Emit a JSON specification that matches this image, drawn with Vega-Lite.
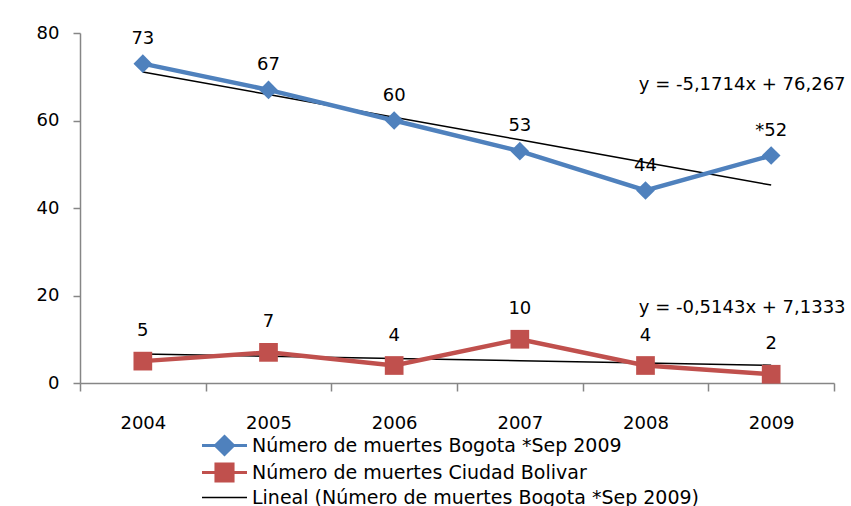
{
  "$schema": "https://vega.github.io/schema/vega-lite/v6.json",
  "width": 754,
  "height": 350,
  "autosize": "none",
  "padding": {"left": 80, "top": 33, "right": 17, "bottom": 123},
  "background": "white",
  "config": {"view": {"stroke": null}, "font": "DejaVu Sans"},
  "datasets": {
    "main": [
      {"year": "2004", "serie": "Número de muertes  Bogota  *Sep 2009", "value": 73, "label": "73"},
      {"year": "2005", "serie": "Número de muertes  Bogota  *Sep 2009", "value": 67, "label": "67"},
      {"year": "2006", "serie": "Número de muertes  Bogota  *Sep 2009", "value": 60, "label": "60"},
      {"year": "2007", "serie": "Número de muertes  Bogota  *Sep 2009", "value": 53, "label": "53"},
      {"year": "2008", "serie": "Número de muertes  Bogota  *Sep 2009", "value": 44, "label": "44"},
      {"year": "2009", "serie": "Número de muertes  Bogota  *Sep 2009", "value": 52, "label": "*52"},
      {"year": "2004", "serie": "Número de muertes  Ciudad Bolivar", "value": 5, "label": "5"},
      {"year": "2005", "serie": "Número de muertes  Ciudad Bolivar", "value": 7, "label": "7"},
      {"year": "2006", "serie": "Número de muertes  Ciudad Bolivar", "value": 4, "label": "4"},
      {"year": "2007", "serie": "Número de muertes  Ciudad Bolivar", "value": 10, "label": "10"},
      {"year": "2008", "serie": "Número de muertes  Ciudad Bolivar", "value": 4, "label": "4"},
      {"year": "2009", "serie": "Número de muertes  Ciudad Bolivar", "value": 2, "label": "2"}
    ],
    "trend": [
      {"year": "2004", "serie": "Lineal (Número de muertes  Bogota  *Sep 2009)", "value": 71.10},
      {"year": "2005", "serie": "Lineal (Número de muertes  Bogota  *Sep 2009)", "value": 65.92},
      {"year": "2006", "serie": "Lineal (Número de muertes  Bogota  *Sep 2009)", "value": 60.75},
      {"year": "2007", "serie": "Lineal (Número de muertes  Bogota  *Sep 2009)", "value": 55.58},
      {"year": "2008", "serie": "Lineal (Número de muertes  Bogota  *Sep 2009)", "value": 50.41},
      {"year": "2009", "serie": "Lineal (Número de muertes  Bogota  *Sep 2009)", "value": 45.24},
      {"year": "2004", "serie": "Lineal (Número de muertes  Ciudad Bolivar)", "value": 6.62},
      {"year": "2005", "serie": "Lineal (Número de muertes  Ciudad Bolivar)", "value": 6.10},
      {"year": "2006", "serie": "Lineal (Número de muertes  Ciudad Bolivar)", "value": 5.59},
      {"year": "2007", "serie": "Lineal (Número de muertes  Ciudad Bolivar)", "value": 5.08},
      {"year": "2008", "serie": "Lineal (Número de muertes  Ciudad Bolivar)", "value": 4.56},
      {"year": "2009", "serie": "Lineal (Número de muertes  Ciudad Bolivar)", "value": 4.05}
    ],
    "eq": [
      {"year": "2009", "value": 68.1, "eq": "y = -5,1714x + 76,267"},
      {"year": "2009", "value": 17.1, "eq": "y = -0,5143x + 7,1333"}
    ]
  },
  "encoding": {
    "x": {
      "field": "year", "type": "nominal",
      "scale": {"paddingInner": 0, "paddingOuter": 0},
      "axis": {
        "title": null, "labelAngle": 0, "tickBand": "extent",
        "labelFontSize": 18, "labelColor": "#000000", "labelPadding": 23,
        "tickSize": 8, "tickColor": "#868686", "domainColor": "#868686",
        "tickWidth": 1.5, "domainWidth": 1.5
      }
    },
    "y": {
      "field": "value", "type": "quantitative",
      "scale": {"domain": [0, 80], "nice": false},
      "axis": {
        "title": null, "values": [0, 20, 40, 60, 80], "grid": false,
        "labelFontSize": 18, "labelColor": "#000000", "labelPadding": 14,
        "tickSize": 7, "tickColor": "#868686", "domainColor": "#868686",
        "tickWidth": 1.5, "domainWidth": 1.5
      }
    }
  },
  "layer": [
    {
      "data": {"name": "trend"},
      "mark": {"type": "line", "strokeWidth": 1.5},
      "encoding": {
        "color": {
          "field": "serie", "type": "nominal",
          "scale": {
            "domain": ["Número de muertes  Bogota  *Sep 2009", "Número de muertes  Ciudad Bolivar", "Lineal (Número de muertes  Bogota  *Sep 2009)", "Lineal (Número de muertes  Ciudad Bolivar)"],
            "range": ["#4F81BD", "#C0504D", "#000000", "#000000"]
          },
          "legend": {
            "title": null, "orient": "none", "legendX": 135, "legendY": 403,
            "values": ["Número de muertes  Bogota  *Sep 2009", "Número de muertes  Ciudad Bolivar", "Lineal (Número de muertes  Bogota  *Sep 2009)"],
            "direction": "vertical", "labelFontSize": 19, "labelColor": "#000000",
            "labelLimit": 800, "symbolSize": 2025, "labelOffset": 18, "rowPadding": -4,
            "encode": {
              "symbols": {
                "update": {
                  "shape": {"signal": "datum.index == 0 ? 'M-1,0H1M0,-0.4L0.4,0L0,0.4L-0.4,0Z' : datum.index == 1 ? 'M-1,0H1M-0.38,-0.38H0.38V0.38H-0.38Z' : 'M-1,0H1'"},
                  "fill": {"signal": "datum.index < 2 ? scale('color', datum.value) : 'transparent'"},
                  "stroke": {"signal": "scale('color', datum.value)"},
                  "strokeWidth": {"signal": "datum.index < 2 ? 3 : 1.5"}
                }
              }
            }
          }
        }
      }
    },
    {
      "data": {"name": "main"},
      "mark": {"type": "line", "strokeWidth": 4.5},
      "encoding": {"color": {"field": "serie", "type": "nominal"}}
    },
    {
      "data": {"name": "main"},
      "mark": {"type": "point", "filled": true, "opacity": 1, "size": 350},
      "encoding": {
        "color": {"field": "serie", "type": "nominal"},
        "shape": {
          "field": "serie", "type": "nominal",
          "scale": {"domain": ["Número de muertes  Bogota  *Sep 2009", "Número de muertes  Ciudad Bolivar"], "range": ["diamond", "square"]},
          "legend": null
        }
      }
    },
    {
      "data": {"name": "main"},
      "transform": [{"filter": "datum.serie == 'Número de muertes  Bogota  *Sep 2009'"}],
      "mark": {"type": "text", "fontSize": 18, "color": "#000000", "dy": -25},
      "encoding": {"text": {"field": "label"}}
    },
    {
      "data": {"name": "main"},
      "transform": [{"filter": "datum.serie == 'Número de muertes  Ciudad Bolivar'"}],
      "mark": {"type": "text", "fontSize": 18, "color": "#000000", "dy": -30},
      "encoding": {"text": {"field": "label"}}
    },
    {
      "data": {"name": "eq"},
      "mark": {"type": "text", "fontSize": 18, "color": "#000000", "dx": -29},
      "encoding": {"text": {"field": "eq"}}
    }
  ]
}
